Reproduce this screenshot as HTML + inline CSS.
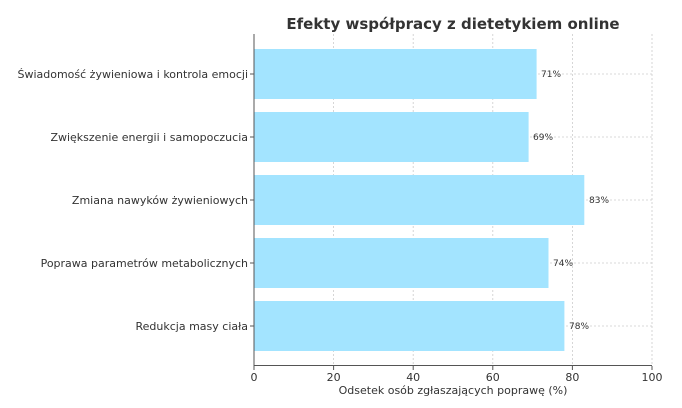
<!DOCTYPE html>
<html><head><meta charset="utf-8"><style>body{margin:0;background:#fff}</style></head><body>
<svg width="682" height="403" xmlns="http://www.w3.org/2000/svg" font-family="'DejaVu Sans', 'Liberation Sans', sans-serif">
<rect width="682" height="403" fill="#fff"/>
<text x="453" y="29" text-anchor="middle" font-size="15" font-weight="bold" fill="#333">Efekty współpracy z dietetykiem online</text>
<g stroke="#ccc" stroke-dasharray="2,2" stroke-width="0.8">
<line x1="333.6" y1="34" x2="333.6" y2="365"/><line x1="413.2" y1="34" x2="413.2" y2="365"/><line x1="492.8" y1="34" x2="492.8" y2="365"/><line x1="572.4" y1="34" x2="572.4" y2="365"/><line x1="652" y1="34" x2="652" y2="365"/>
<line x1="254" y1="74" x2="652" y2="74"/><line x1="254" y1="137" x2="652" y2="137"/><line x1="254" y1="200" x2="652" y2="200"/><line x1="254" y1="263" x2="652" y2="263"/><line x1="254" y1="326" x2="652" y2="326"/>
</g>
<g fill="#a3e4ff">
<rect x="254" y="49" width="282.6" height="50"/>
<rect x="254" y="112" width="274.6" height="50"/>
<rect x="254" y="175" width="330.3" height="50"/>
<rect x="254" y="238" width="294.5" height="50"/>
<rect x="254" y="301" width="310.4" height="50"/>
</g>
<g font-size="9" fill="#333">
<text x="541" y="77">71%</text><text x="533" y="140">69%</text><text x="589" y="203">83%</text><text x="553" y="266">74%</text><text x="569" y="329">78%</text>
</g>
<g stroke="#555" stroke-width="1">
<line x1="254" y1="34" x2="254" y2="366"/><line x1="254" y1="365.5" x2="652" y2="365.5"/>
<line x1="250" y1="74" x2="254" y2="74"/><line x1="250" y1="137" x2="254" y2="137"/><line x1="250" y1="200" x2="254" y2="200"/><line x1="250" y1="263" x2="254" y2="263"/><line x1="250" y1="326" x2="254" y2="326"/>
<line x1="254" y1="366" x2="254" y2="370"/><line x1="333.6" y1="366" x2="333.6" y2="370"/><line x1="413.2" y1="366" x2="413.2" y2="370"/><line x1="492.8" y1="366" x2="492.8" y2="370"/><line x1="572.4" y1="366" x2="572.4" y2="370"/><line x1="652" y1="366" x2="652" y2="370"/>
</g>
<g font-size="11" fill="#333" text-anchor="end">
<text x="248" y="78">Świadomość żywieniowa i kontrola emocji</text>
<text x="248" y="141">Zwiększenie energii i samopoczucia</text>
<text x="248" y="204">Zmiana nawyków żywieniowych</text>
<text x="248" y="267">Poprawa parametrów metabolicznych</text>
<text x="248" y="330">Redukcja masy ciała</text>
</g>
<g font-size="11" fill="#333" text-anchor="middle">
<text x="254" y="381">0</text><text x="333.6" y="381">20</text><text x="413.2" y="381">40</text><text x="492.8" y="381">60</text><text x="572.4" y="381">80</text><text x="652" y="381">100</text>
<text x="453" y="394">Odsetek osób zgłaszających poprawę (%)</text>
</g>
</svg>
</body></html>
